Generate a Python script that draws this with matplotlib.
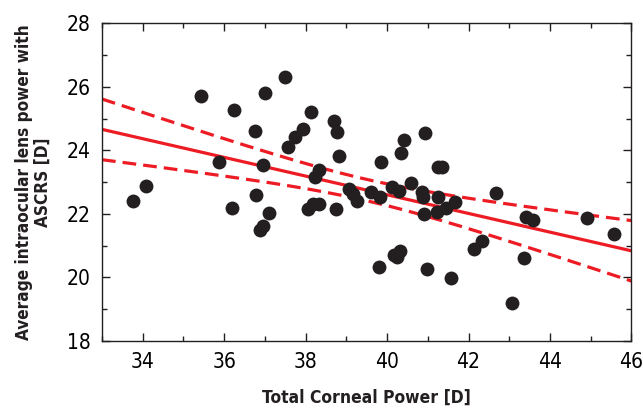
import matplotlib
matplotlib.use('Agg')
import matplotlib.pyplot as plt
import numpy as np
from matplotlib.ticker import MultipleLocator

# data
corneal_power = [
    33.77, 34.08, 35.44, 36.23, 35.87, 36.19, 36.75, 36.79, 36.87, 36.96,
    36.96, 37.01, 37.09, 37.50, 37.56, 37.73, 37.93, 38.12, 38.05, 38.19,
    38.32, 38.23, 38.32, 38.69, 38.76, 38.82, 38.74, 39.07, 39.17, 39.26,
    39.61, 39.83, 39.86, 39.81, 40.13, 40.30, 40.17, 40.25, 40.31, 40.33,
    40.41, 40.59, 40.86, 40.89, 40.92, 40.90, 40.98, 41.24, 41.35, 41.26,
    41.23, 41.44, 41.66, 41.56, 42.14, 42.32, 42.68, 43.07, 43.35, 43.40,
    43.58, 44.92, 45.56,
]
iol_power = [
    22.42, 22.89, 25.72, 25.27, 23.64, 22.20, 24.62, 22.61, 21.49, 21.62,
    23.54, 25.82, 22.04, 26.30, 24.12, 24.42, 24.68, 25.21, 22.17, 22.30,
    22.31, 23.17, 23.38, 24.91, 24.57, 23.81, 22.17, 22.78, 22.62, 22.40,
    22.68, 22.54, 23.62, 20.34, 22.86, 22.73, 20.71, 20.63, 20.84, 23.91,
    24.32, 22.98, 22.70, 22.54, 24.56, 22.00, 20.28, 23.49, 23.49, 22.52,
    22.06, 22.19, 22.36, 19.99, 20.89, 21.16, 22.65, 19.21, 20.60, 21.91,
    21.81, 21.86, 21.37,
]

x = np.array(corneal_power)
y = np.array(iol_power)

# linear fit + 95% confidence band of the mean
n = len(x)
b, a = np.polyfit(x, y, 1)
resid = y - (a + b * x)
s = np.sqrt(np.sum(resid**2) / (n - 2))
sxx = np.sum((x - x.mean())**2)
xx = np.linspace(33, 46, 200)
yy = a + b * xx
half = 2.0 * s * np.sqrt(1.0 / n + (xx - x.mean())**2 / sxx)

plt.rcParams['font.family'] = ['DejaVu Sans']
plt.rcParams['font.stretch'] = 'condensed'

fig = plt.figure(figsize=(6.43, 4.16), dpi=100)
ax = fig.add_axes([0.1586, 0.1803, 0.8234, 0.7637])

red = '#ed1c24'
ax.plot(xx, yy, color=red, lw=2.3)
ax.plot(xx, yy + half, color=red, lw=2.3, dashes=(4.3, 2.2))
ax.plot(xx, yy - half, color=red, lw=2.3, dashes=(4.3, 2.2))
ax.scatter(x, y, s=100, color='#231f20', zorder=3, linewidths=0)

ax.set_xlim(33, 46)
ax.set_ylim(18, 28)
ax.xaxis.set_major_locator(MultipleLocator(2))
ax.xaxis.set_minor_locator(MultipleLocator(1))
ax.yaxis.set_major_locator(MultipleLocator(2))
ax.yaxis.set_minor_locator(MultipleLocator(1))
ax.tick_params(which='both', direction='in', top=True, right=True,
               color='#231f20', width=1)
ax.tick_params(which='major', length=6, labelsize=15, pad=8)
ax.tick_params(which='minor', length=3.5)
for sp in ax.spines.values():
    sp.set_color('#231f20')
    sp.set_linewidth(1)

fig.text(366 / 643, 0.043, 'Total Corneal Power [D]', ha='center', va='center',
         fontsize=12.5, fontweight='bold', color='#231f20')
fig.text(33 / 643, 0.5625, 'Average intraocular lens power with\nASCRS [D]',
         ha='center', va='center', rotation=90, multialignment='center',
         fontsize=12.3, fontweight='bold', color='#231f20', linespacing=1.05)

plt.savefig('out.png', dpi=100)
